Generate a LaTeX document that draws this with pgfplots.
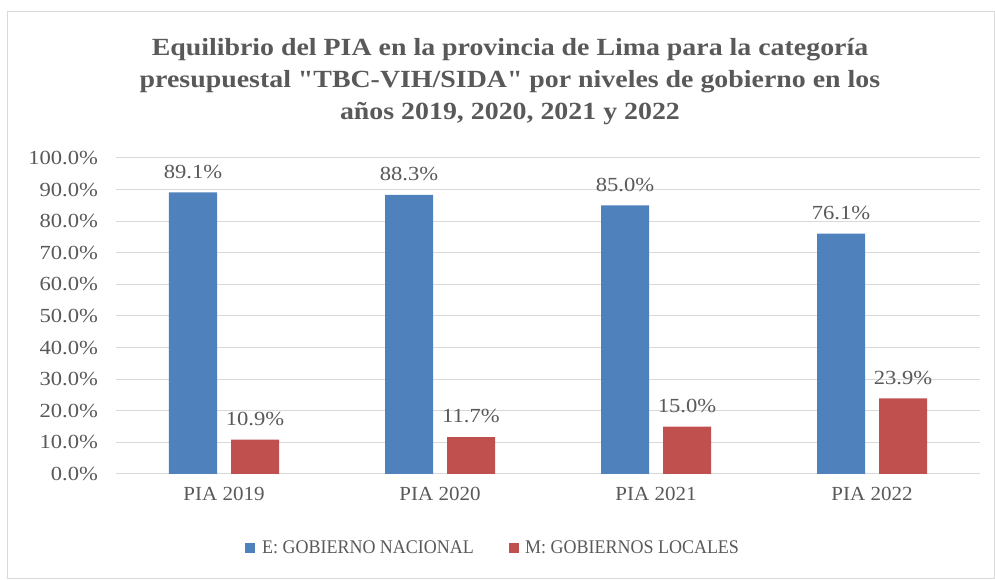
\documentclass[border=0pt]{standalone}
\usepackage{pgfplots}
\pgfplotsset{compat=1.18}
\usepackage{fontspec}
\setmainfont{Liberation Serif}
\newfontfamily\numfont[FakeStretch=1.13]{Liberation Serif}
\newfontfamily\catfont[FakeStretch=1.05]{Liberation Serif}
\newfontfamily\titlefont[FakeStretch=1.13]{Liberation Serif}
\newfontfamily\legfont[FakeStretch=0.93]{Liberation Serif}
\definecolor{txt}{HTML}{595959}
\definecolor{gridc}{HTML}{D9D9D9}
\definecolor{blu}{HTML}{4F81BD}
\definecolor{rd}{HTML}{C0504D}
\begin{document}
\begin{tikzpicture}
\path[use as bounding box] (-87pt,355.5pt) rectangle (659.25pt,-79.5pt);
\draw[gridc, line width=0.75pt] (-81pt,346.5pt) rectangle (658.5pt,-78.75pt);
\node[align=center, text=txt, font=\titlefont\fontsize{18.5}{24}\selectfont\bfseries] at (295.5pt,294pt)
{Equilibrio del PIA en la provincia de Lima para la categoría\\presupuestal \symbol{34}TBC-VIH/SIDA\symbol{34} por niveles de gobierno en los\\años 2019, 2020, 2021 y 2022};
\begin{axis}[at={(0,0)}, anchor=south west, scale only axis, width=648pt, height=237pt,
  xmin=-0.5, xmax=3.5, ymin=0, ymax=100,
  ytick={0,10,...,100}, xtick={0,1,2,3},
  xticklabels={PIA 2019,PIA 2020,PIA 2021,PIA 2022},
  axis line style={draw=none}, ymajorgrids, grid style={gridc, line width=0.75pt},
  major tick length=0pt,
  yticklabel={\pgfmathprintnumber[fixed,fixed zerofill,precision=1]{\tick}\%},
  /pgf/number format/assume math mode=true,
  tick label style={text=txt},
  yticklabel style={font=\numfont\fontsize{15}{18}\selectfont, xshift=-10pt},
  xticklabel style={font=\catfont\fontsize{15}{18}\selectfont, yshift=-6pt},
  ybar, bar width=36pt,
  nodes near coords={\pgfmathprintnumber[fixed,fixed zerofill,precision=1]{\pgfplotspointmeta}\%},
  nodes near coords style={font=\numfont\fontsize{15}{18}\selectfont, text=txt, yshift=7pt},
  legend columns=2,
  legend style={at={(0.437,-0.234)}, anchor=center, draw=none, fill=none,
    font=\legfont\fontsize{14.5}{17}\selectfont, text=txt,
    /tikz/every even column/.append style={column sep=24pt},
    /tikz/every odd column/.append style={column sep=3pt}},
  legend image code/.code={\fill (0pt,-3.75pt) rectangle (7.5pt,3.75pt);},
]
\addplot[fill=blu, draw=none, bar shift=-23.25pt] coordinates {(0,89.1) (1,88.3) (2,85.0) (3,76.1)};
\addlegendentry{E: GOBIERNO NACIONAL}
\addplot[fill=rd, draw=none, bar shift=23.25pt] coordinates {(0,10.9) (1,11.7) (2,15.0) (3,23.9)};
\addlegendentry{M: GOBIERNOS LOCALES}
\end{axis}
\end{tikzpicture}
\end{document}
